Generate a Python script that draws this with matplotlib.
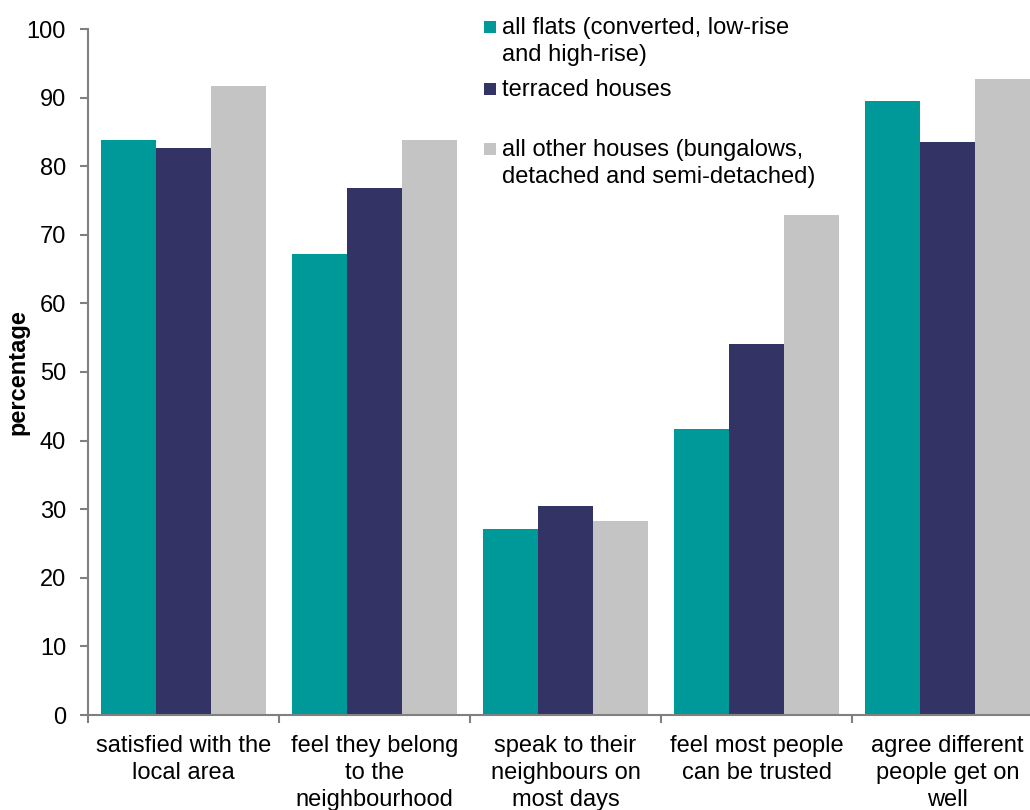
import numpy as np
import matplotlib
matplotlib.use("Agg")
import matplotlib.pyplot as plt
from matplotlib.patches import Rectangle

plt.rcParams['font.family'] = ['Liberation Sans', 'DejaVu Sans']

categories = ["satisfied with the\nlocal area",
              "feel they belong\nto the\nneighbourhood",
              "speak to their\nneighbours on\nmost days",
              "feel most people\ncan be trusted",
              "agree different\npeople get on\nwell"]
series_names = ["all flats (converted, low-rise\nand high-rise)",
                "terraced houses",
                "all other houses (bungalows,\ndetached and semi-detached)"]
flats = [83.8, 67.2, 27.1, 41.7, 89.5]
terraced = [82.7, 76.8, 30.5, 54.1, 83.5]
other_houses = [91.7, 83.8, 28.3, 72.9, 92.7]
colors = ["#009999", "#333366", "#C4C4C4"]

W, H = 1030, 810
fig = plt.figure(figsize=(W / 100, H / 100), dpi=100)
ax = fig.add_axes([88 / W, 95 / H, 955 / W, 686 / H])

x = np.arange(len(categories))
w = 0.288
for i, vals in enumerate([flats, terraced, other_houses]):
    ax.bar(x + (i - 1) * w, vals, width=w, color=colors[i], linewidth=0)

ax.set_xlim(-0.5, len(categories) - 0.5)
ax.set_ylim(0, 100)
ax.set_yticks(range(0, 101, 10))
ax.set_xticks(x)
ax.set_xticklabels(categories, fontsize=17, linespacing=1.28)
ax.set_xticks(np.arange(-0.5, len(categories)), minor=True)
ax.tick_params(axis='x', which='major', length=0, pad=14.5)
ax.tick_params(axis='x', which='minor', length=5.8, width=1.5, color='#808080')
ax.tick_params(axis='y', labelsize=17, length=5.8, width=1.5, color='#808080', pad=10)

for s in ['top', 'right']:
    ax.spines[s].set_visible(False)
for s in ['left', 'bottom']:
    ax.spines[s].set_color('#808080')
    ax.spines[s].set_linewidth(1.5)

ax.set_ylabel("percentage", fontsize=17, fontweight='bold')
ax.yaxis.set_label_coords(-0.061, 0.5)

# legend drawn as squares with wrapped text
legend_y = [27, 89, 149]
for name, c, yp in zip(series_names, colors, legend_y):
    fy = 1 - yp / H
    fig.patches.append(Rectangle((484 / W, fy - 6 / H), 12 / W, 12 / H,
                                 transform=fig.transFigure, color=c, linewidth=0))
    fig.text(502 / W, fy + 10 / H, name, fontsize=17, va='top', ha='left',
             linespacing=1.28)

fig.savefig("out.png", dpi=100)
